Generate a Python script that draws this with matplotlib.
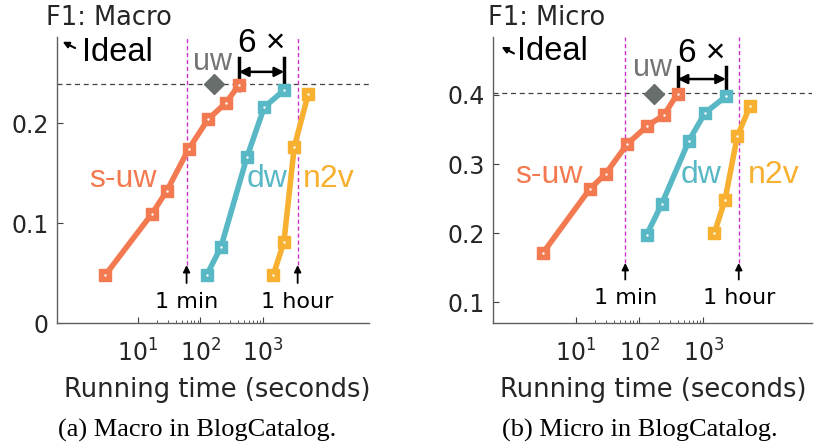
import numpy as np
import matplotlib
matplotlib.use('Agg')
import matplotlib.pyplot as plt

plt.rcParams['font.family'] = ['DejaVu Sans']
plt.rcParams['mathtext.fontset'] = 'dejavusans'
plt.rcParams['mathtext.default'] = 'regular'

# data (time in seconds, F1 score)
macro_suw_t = [3.0, 16.6, 28.8, 64.7, 133, 253, 413]
macro_suw_f = [0.048, 0.109, 0.132, 0.174, 0.204, 0.220, 0.238]
macro_dw_t = [126, 213, 555, 1050, 2190]
macro_dw_f = [0.048, 0.076, 0.166, 0.216, 0.233]
macro_n2v_t = [1463, 2168, 3170, 5310]
macro_n2v_f = [0.048, 0.081, 0.176, 0.229]
macro_uw = (166, 0.239)

micro_suw_t = [3.1, 16.7, 29.5, 64.4, 132, 242, 397]
micro_suw_f = [0.172, 0.264, 0.286, 0.329, 0.355, 0.371, 0.402]
micro_dw_t = [130, 223, 597, 1064, 2270]
micro_dw_f = [0.198, 0.242, 0.334, 0.374, 0.398]
micro_n2v_t = [1489, 2188, 3410, 5400]
micro_n2v_f = [0.200, 0.248, 0.340, 0.384]
micro_uw = (171, 0.402)

C_SUW = '#F37A50'
C_DW = '#59B8C5'
C_N2V = '#F7B02F'
C_UW = '#686E6B'
C_MAG = '#CC33CC'
TXT = '#262626'
BIG = 'Liberation Sans'

fig = plt.figure(figsize=(8.17, 4.48), dpi=100)


def panel(rect, series, uw, ylim, yticks, ideal_y, cfg):
    ax = fig.add_axes(rect)
    ax.set_xscale('log')
    ax.set_xlim(cfg['xlim'])
    ax.set_ylim(ylim)
    for t, f, c in series:
        ax.plot(t, f, '-s', color=c, lw=4, ms=9, mec=c, zorder=3)
        ax.plot(t, f, '.', color='white', ms=1.5, zorder=4)
    ax.plot(uw[0], uw[1], 'D', color=C_UW, ms=10, zorder=3)
    ax.axhline(ideal_y, color='#404040', ls=(0, (4, 3)), lw=0.9, zorder=1)

    # 1 min / 1 hour markers
    for xv, txt in [(60, '1 min'), (3600, '1 hour')]:
        ax.axvline(xv, ymin=(cfg['arr_tip'] - ylim[0]) / (ylim[1] - ylim[0]),
                   color=C_MAG, ls=(0, (3, 2)), lw=1, zorder=1)
        ax.annotate('', xy=(xv, cfg['arr_tip']), xytext=(xv, cfg['arr_tail']),
                    arrowprops=dict(arrowstyle='-|>', color='black', lw=1.3,
                                    mutation_scale=10, shrinkA=0, shrinkB=0))
        ax.text(xv, cfg['time_y'], txt, ha='center', va='center', fontsize=16, color='black')

    # 6x speedup
    x1, x2 = series[0][0][-1], series[1][0][-1]
    ax.plot([x1, x1], cfg['bar1'], color='black', lw=2.5)
    ax.plot([x2, x2], cfg['bar2'], color='black', lw=2.5)
    ax.annotate('', xy=(x1, cfg['arr6']), xytext=(x2, cfg['arr6']),
                arrowprops=dict(arrowstyle='<|-|>', color='black', lw=1.8,
                                mutation_scale=14, shrinkA=0, shrinkB=0))
    ax.text(np.sqrt(x1 * x2), cfg['six_y'], '6 ×', ha='center', va='center', fontsize=24,
            color='black', family=BIG)
    ax.text(cfg['uw_txt'][0], cfg['uw_txt'][1], 'uw', ha='center', va='center', fontsize=22,
            color='#747474', family=BIG)

    # method labels
    for (x, y), name, c in zip(cfg['labels'], ['s-uw', 'dw', 'n2v'], [C_SUW, C_DW, C_N2V]):
        ax.text(x, y, name, ha='center', va='center', fontsize=23, color=c, family=BIG)

    ax.text(cfg['title_x'], 1.02, cfg['title'], transform=ax.transAxes, ha='left', va='bottom',
            fontsize=18.5, color=TXT)
    ax.text(cfg['ideal_x'], 0.948, 'Ideal', transform=ax.transAxes, ha='left', va='center',
            fontsize=23.5, color='black', family=BIG)
    ax.annotate('', xy=cfg['ideal_head'], xytext=cfg['ideal_tail'], xycoords='axes fraction',
                arrowprops=dict(arrowstyle='-|>', color='black', lw=1.5,
                                mutation_scale=9, shrinkA=0, shrinkB=0))

    ax.set_xticks([10, 100, 1000])
    ax.set_xticklabels(['$10^1$', '$10^2$', '$10^3$'])
    minor = [m * 10 ** e for e in (1, 2) for m in range(2, 10)]
    ax.set_xticks(minor, minor=True)
    ax.set_xticklabels([], minor=True)
    ax.set_yticks(yticks)
    ax.set_yticklabels(cfg['ylabels'])
    ax.tick_params(axis='both', which='major', direction='in', length=4, width=0.8,
                   labelsize=17, colors=TXT, color='#404040')
    ax.tick_params(axis='x', which='major', pad=12)
    ax.tick_params(axis='y', which='major', pad=6)
    ax.tick_params(axis='x', which='minor', direction='in', length=2, width=0.6, color='#404040')
    for s in ['top', 'right']:
        ax.spines[s].set_visible(False)
    for s in ['left', 'bottom']:
        ax.spines[s].set_color('#606060')
        ax.spines[s].set_linewidth(1.0)
    return ax


panel([0.0698, 0.279, 0.3819, 0.638],
      [(macro_suw_t, macro_suw_f, C_SUW), (macro_dw_t, macro_dw_f, C_DW), (macro_n2v_t, macro_n2v_f, C_N2V)],
      macro_uw, (0, 0.286), [0, 0.1, 0.2], 0.239,
      dict(xlim=(0.506, 50000), arr_tip=0.058, arr_tail=0.040, time_y=0.021,
           bar1=(0.233, 0.265), bar2=(0.229, 0.265), arr6=0.2513, six_y=0.2797,
           uw_txt=(155, 0.261), labels=[(5.75, 0.144), (1159, 0.144), (11376, 0.144)],
           title='F1: Macro', title_x=-0.035, ideal_x=0.08,
           ideal_head=(0.018, 0.984), ideal_tail=(0.058, 0.962), ylabels=['0', '0.1', '0.2']))

panel([0.6038, 0.2797, 0.3897, 0.638],
      [(micro_suw_t, micro_suw_f, C_SUW), (micro_dw_t, micro_dw_f, C_DW), (micro_n2v_t, micro_n2v_f, C_N2V)],
      micro_uw, (0.0706, 0.484), [0.1, 0.2, 0.3, 0.4], 0.4025,
      dict(xlim=(0.513, 50000), arr_tip=0.157, arr_tail=0.133, time_y=0.1066,
           bar1=(0.397, 0.441), bar2=(0.392, 0.441), arr6=0.423, six_y=0.460,
           uw_txt=(160, 0.4385), labels=[(3.85, 0.2846), (914, 0.2846), (12900, 0.2846)],
           title='F1: Micro', title_x=-0.016, ideal_x=0.073,
           ideal_head=(0.026, 0.965), ideal_tail=(0.065, 0.942), ylabels=['0.1', '0.2', '0.3', '0.4']))

fig.text(217.5 / 817, 1 - 390 / 448, 'Running time (seconds)', ha='center', va='center', fontsize=18.5, color=TXT)
fig.text(653.3 / 817, 1 - 390 / 448, 'Running time (seconds)', ha='center', va='center', fontsize=18.5, color=TXT)
fig.text(197.5 / 817, 1 - 430 / 448, '(a) Macro in BlogCatalog.', ha='center', va='center',
         fontsize=19, family='Liberation Serif', color='black')
fig.text(640 / 817, 1 - 430 / 448, '(b) Micro in BlogCatalog.', ha='center', va='center',
         fontsize=19, family='Liberation Serif', color='black')

fig.savefig('out.png', dpi=100)
